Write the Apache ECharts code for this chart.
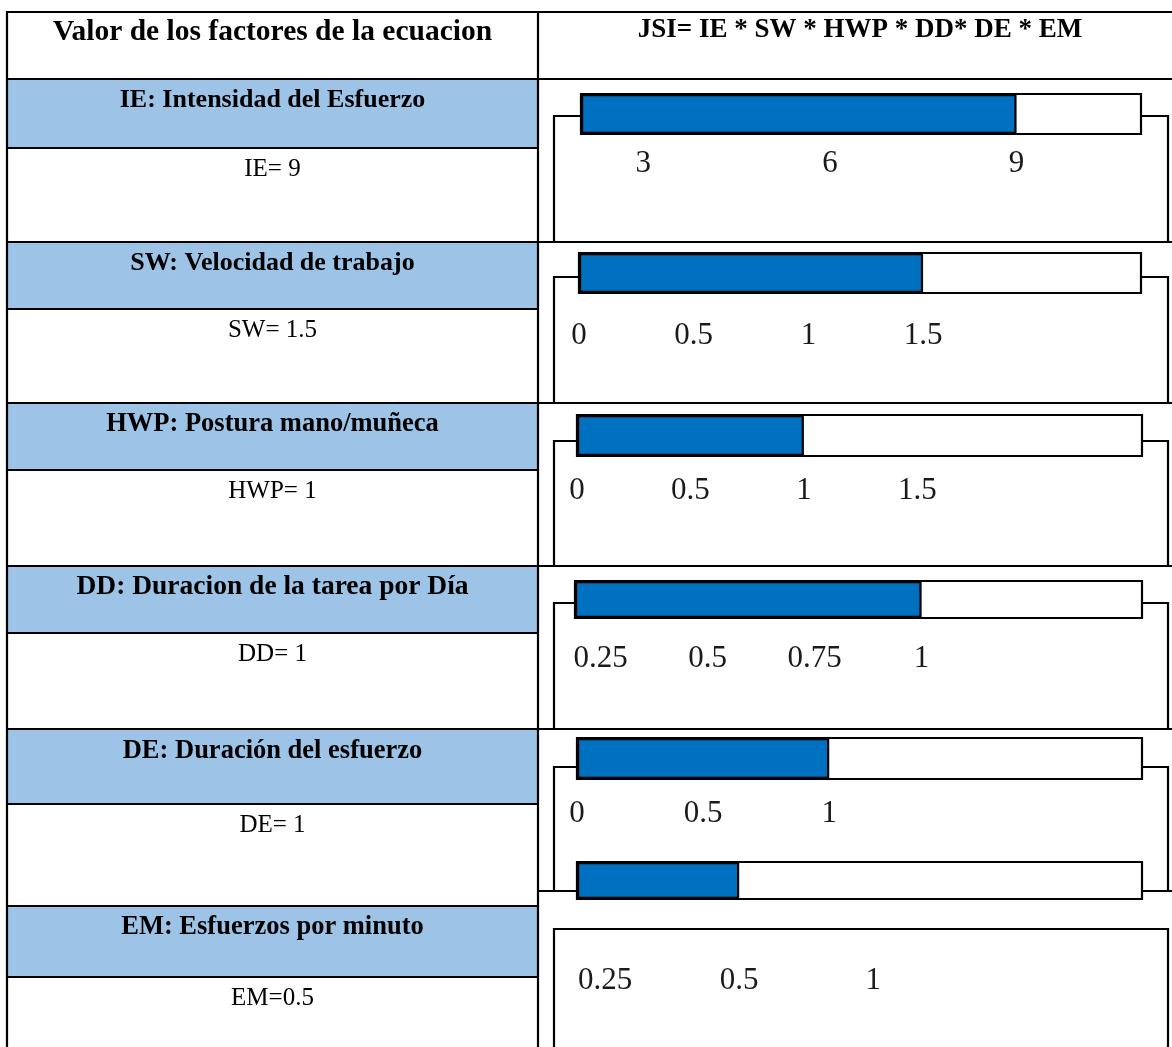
<!DOCTYPE html>
<html><head><meta charset="utf-8">
<script src="https://cdn.jsdelivr.net/npm/echarts@6/dist/echarts.min.js"></script>
<style>html,body{margin:0;padding:0;background:#fff}#c{width:1172px;height:1047px}</style>
</head><body><div id="c"></div>
<script>
// ---- data ----
const headerLeft = 'Valor de los factores de la ecuacion';
const headerRight = 'JSI= IE * SW * HWP * DD* DE * EM';
const factorTitles = ['IE: Intensidad del Esfuerzo', 'SW: Velocidad de trabajo', 'HWP: Postura mano/muñeca',
  'DD: Duracion de la tarea por Día', 'DE: Duración del esfuerzo', 'EM: Esfuerzos por minuto'];
const factorValueTexts = ['IE= 9', 'SW= 1.5', 'HWP= 1', 'DD= 1', 'DE= 1', 'EM=0.5'];
const factorValues = [9, 1.5, 1, 1, 1, 0.5];
const tickLabels = [[3, 6, 9], [0, 0.5, 1, 1.5], [0, 0.5, 1, 1.5], [0.25, 0.5, 0.75, 1], [0, 0.5, 1], [0.25, 0.5, 1]];
const scaleMin = [2, 0, 0, 0.19, 0, 0.216];
const scaleMax = [11, 2.45, 2.49, 1.515, 2.24, 4.02];
const scaleType = ['value', 'value', 'value', 'value', 'value', 'log'];

// ---- layout ----
const L = 7, D = 538, R = 1172, T = 12, B = 1047, HB = 79;
const titleTops = [79, 242, 403, 566, 730, 906];
const valueTops = [148, 309, 470, 633, 804, 977];
const titleSizes = [26, 26, 26.5, 27.5, 26.5, 26.5];
const FL = 554, FR = 1168;
const gauges = [
  {x0: 581, x1: 1141, y0: 94, y1: 134, ft: 116, fb: 242, lab: 30},
  {x0: 579, x1: 1141, y0: 253, y1: 293, ft: 277, fb: 403, lab: 43},
  {x0: 577, x1: 1142, y0: 415, y1: 456, ft: 441, fb: 566, lab: 35},
  {x0: 575, x1: 1142, y0: 581, y1: 618, ft: 603, fb: 729, lab: 41},
  {x0: 577, x1: 1142, y0: 738, y1: 779, ft: 767, fb: 891, lab: 35},
  {x0: 577, x1: 1142, y0: 862, y1: 899, ft: 929, fb: 1060, lab: 82}
];
const FONT = '"Liberation Serif", "Times New Roman", serif';
const BLUE_CELL = '#9DC3E6';
const BAR_BLUE = '#0070C0';

const chart = echarts.init(document.getElementById('c'));
const graphics = [];
const line = (x1, y1, x2, y2, w) => graphics.push({type: 'line', z: 1, silent: true,
  shape: {x1, y1, x2, y2}, style: {stroke: '#000', lineWidth: w || 2.2}});
const poly = (pts) => graphics.push({type: 'polyline', z: 1, silent: true,
  shape: {points: pts}, style: {stroke: '#000', lineWidth: 2.2, fill: null}});
const text = (s, x, y, bold, size) => graphics.push({type: 'text', z: 3, silent: true,
  style: {text: s, x, y, align: 'center', verticalAlign: 'middle', fill: '#000',
    font: (bold ? 'bold ' : '') + size + 'px ' + FONT}});

// blue title cells
titleTops.forEach((t, i) => graphics.push({type: 'rect', z: 0, silent: true,
  shape: {x: L, y: t, width: D - L, height: valueTops[i] - t}, style: {fill: BLUE_CELL}}));

// table borders
line(L, T, R, T);
line(L, HB, R, HB);
line(L, T - 1, L, B + 5);
line(D, T - 1, D, B + 5);
[242, 403, 566, 729].forEach(y => line(L, y, R, y));
line(L, 906, D, 906);
line(D, 891, R, 891);
valueTops.forEach(y => line(L, y, D, y));

// gauge frames
gauges.forEach((g, i) => {
  if (i < 5) {
    poly([[FL, g.fb], [FL, g.ft], [g.x0, g.ft]]);
    poly([[g.x1, g.ft], [FR, g.ft], [FR, g.fb]]);
  } else {
    poly([[FL, g.fb], [FL, g.ft], [FR, g.ft], [FR, g.fb]]);
  }
});

// texts
text(headerLeft, (L + D) / 2, 32, true, 29.5);
text(headerRight, 860, 30, true, 27);
factorTitles.forEach((s, i) => text(s, (L + D) / 2, titleTops[i] + 21, true, titleSizes[i]));
factorValueTexts.forEach((s, i) => text(s, (L + D) / 2, valueTops[i] + 21, false, 25));

const grids = [], xAxes = [], yAxes = [], series = [];
gauges.forEach((g, i) => {
  grids.push({left: g.x0, top: g.y0, width: g.x1 - g.x0, height: g.y1 - g.y0,
    containLabel: false, outerBoundsMode: 'none'});
  const ax = {type: scaleType[i], gridIndex: i, min: scaleMin[i], max: scaleMax[i], startValue: scaleMin[i],
    position: 'bottom', axisLine: {show: false}, axisTick: {show: false}, splitLine: {show: false},
    axisLabel: {customValues: tickLabels[i], margin: g.lab, verticalAlign: 'middle', fontSize: 31,
      fontFamily: FONT, color: '#1a1a1a', hideOverlap: false, formatter: v => String(+(+v).toFixed(2))}};
  if (scaleType[i] === 'log') ax.logBase = 2;
  xAxes.push(ax);
  yAxes.push({type: 'category', gridIndex: i, data: [factorTitles[i]], show: false});
  series.push({type: 'bar', xAxisIndex: i, yAxisIndex: i, data: [factorValues[i]], barWidth: '100%',
    z: 5, silent: true, animation: false,
    itemStyle: {color: BAR_BLUE, borderColor: '#000', borderWidth: 2.2},
    showBackground: true,
    backgroundStyle: {color: '#fff', borderColor: '#000', borderWidth: 2.2, opacity: 1}});
});

chart.setOption({
  animation: false,
  grid: grids, xAxis: xAxes, yAxis: yAxes, series,
  graphic: {elements: graphics}
});
</script></body></html>
